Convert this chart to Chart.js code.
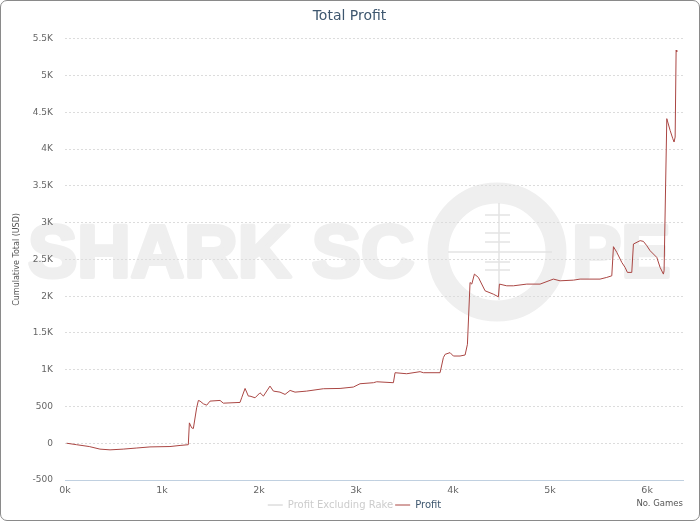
<!DOCTYPE html>
<html>
<head>
<meta charset="utf-8">
<script src="https://cdn.jsdelivr.net/npm/chart.js@4"></script>
<style>
  body { margin: 0; background: #fff; }
  #wrap { position: relative; width: 700px; height: 521px; }
  #frame { position: absolute; left: 0; top: 0; width: 700px; height: 521px; box-sizing: border-box;
           border: 1px solid #8a8a8a; border-radius: 7px; pointer-events: none; }
</style>
</head>
<body>
<div id="wrap">
  <canvas id="profitChart" width="700" height="521"></canvas>
  <div id="frame"></div>
</div>
<script>
// No. of games played (x) and cumulative profit in USD (y)
const games = [17, 120, 250, 360, 464, 600, 740, 876, 1082, 1186, 1271, 1282, 1306, 1323, 1357, 1375,
  1392, 1426, 1461, 1495, 1598, 1632, 1804, 1821, 1856, 1890, 1907, 1959, 2010, 2045, 2113, 2148,
  2216, 2268, 2320, 2371, 2491, 2663, 2835, 2972, 3041, 3179, 3213, 3385, 3402, 3522, 3660, 3694,
  3866, 3900, 3918, 3969, 4003, 4072, 4124, 4148, 4175, 4193, 4220, 4261, 4330, 4416, 4467, 4478,
  4553, 4622, 4760, 4897, 5034, 5103, 5241, 5309, 5515, 5584, 5636, 5653, 5688, 5739, 5773, 5797,
  5842, 5859, 5928, 5962, 5997, 6031, 6100, 6134, 6168, 6175, 6203, 6237, 6265, 6278, 6289, 6299, 6306];
const profit = [0, -20, -45, -80, -90, -80, -65, -50, -45, -30, -20, 277, 209, 200, 482, 582,
  573, 536, 518, 573, 582, 545, 555, 618, 745, 641, 641, 618, 686, 641, 777, 709,
  695, 664, 718, 695, 709, 741, 745, 764, 809, 823, 836, 823, 959, 945, 973, 959,
  959, 1164, 1209, 1232, 1186, 1186, 1200, 1346, 2186, 2164, 2300, 2255, 2073, 2027, 1991, 2164,
  2141, 2141, 2164, 2164, 2232, 2209, 2218, 2232, 2232, 2255, 2277, 2673, 2595, 2459, 2391, 2323,
  2323, 2709, 2755, 2745, 2686, 2618, 2527, 2391, 2300, 2345, 4414, 4255, 4141, 4096, 4164, 5345, 5323];
// series shown greyed out (switched off) in the legend
const profitExRake = [];

const seriesNames = ['Profit Excluding Rake', 'Profit'];
const seriesColors = ['#4572a7', '#aa4643'];

const xTicks = [0, 1000, 2000, 3000, 4000, 5000, 6000];
const yTicks = { min: -500, max: 5500, step: 500 };

const FONT = "'DejaVu Sans', Verdana, sans-serif";

// big grey "SHARK SCOPE" watermark behind the plot, plus small layout nudges
const watermark = {
    id: 'watermark',
    afterLayout(chart) {
        chart.legend.left += 9;
        chart.legend.right += 9;
        chart.titleBlock.left += 4;
        chart.titleBlock.right += 4;
    },
    beforeDraw(chart) {
        const ctx = chart.ctx;
        ctx.save();
        ctx.fillStyle = '#efefef';
        ctx.strokeStyle = '#efefef';
        ctx.font = "bold 74px 'Liberation Sans', Arial, sans-serif";
        ctx.textBaseline = 'alphabetic';
        ctx.lineWidth = 4;
        ctx.lineJoin = 'round';
        ctx.fillText('SHARK SC', 28, 277);
        ctx.strokeText('SHARK SC', 28, 277);
        ctx.fillText('PE', 572, 277);
        ctx.strokeText('PE', 572, 277);
        ctx.lineWidth = 21;
        ctx.beginPath();
        ctx.arc(497, 252, 59, 0, Math.PI * 2);
        ctx.stroke();
        ctx.lineWidth = 1.5;
        ctx.strokeStyle = '#e4e4e4';
        ctx.beginPath();
        ctx.moveTo(499, 203); ctx.lineTo(499, 300);
        ctx.moveTo(448, 252); ctx.lineTo(552, 252);
        [215, 233, 242, 262, 270].forEach(y => {
            ctx.moveTo(485, y); ctx.lineTo(510, y);
        });
        ctx.stroke();
        ctx.restore();
    },
    afterDraw(chart) {
        const ctx = chart.ctx;
        ctx.save();
        ctx.font = '8.5px ' + FONT;
        ctx.fillStyle = '#555';
        ctx.textAlign = 'right';
        ctx.textBaseline = 'middle';
        ctx.fillText('No. Games', 683, 504);
        ctx.restore();
    }
};

new Chart(document.getElementById('profitChart'), {
    type: 'line',
    data: {
        datasets: [
            {
                label: seriesNames[0],
                data: profitExRake.map((v, i) => ({ x: games[i], y: v })),
                borderColor: seriesColors[0],
                borderWidth: 1,
                pointRadius: 0,
                hidden: true
            },
            {
                label: seriesNames[1],
                data: profit.map((v, i) => ({ x: games[i], y: v })),
                borderColor: seriesColors[1],
                borderWidth: 1,
                pointRadius: 0,
                tension: 0
            }
        ]
    },
    options: {
        responsive: false,
        animation: false,
        devicePixelRatio: 1,
        layout: { padding: { left: 8, right: 17, top: 0, bottom: 1 } },
        plugins: {
            title: {
                display: true,
                text: 'Total Profit',
                color: '#3e576f',
                font: { family: FONT, size: 14, weight: 'normal' },
                padding: { top: 8, bottom: 14 }
            },
            legend: {
                position: 'bottom',
                onClick: null,
                labels: {
                    usePointStyle: true,
                    pointStyleWidth: 15,
                    boxHeight: 10,
                    padding: 2,
                    font: { family: FONT, size: 10 },
                    generateLabels(chart) {
                        return chart.data.datasets.map((ds, i) => {
                            const off = ds.hidden;
                            const c = off ? '#cccccc' : '#3e576f';
                            return {
                                text: ds.label,
                                fontColor: c,
                                strokeStyle: off ? '#cccccc' : ds.borderColor,
                                fillStyle: 'transparent',
                                lineWidth: 1,
                                pointStyle: 'line',
                                hidden: false,
                                datasetIndex: i
                            };
                        });
                    }
                }
            },
            tooltip: { enabled: false }
        },
        scales: {
            x: {
                type: 'linear',
                min: 0,
                max: 6370,
                grid: { display: false, drawTicks: false },
                border: { display: true, color: '#c0d0e0' },
                ticks: {
                    autoSkip: false,
                    maxRotation: 0,
                    padding: 5,
                    color: '#666',
                    font: { family: FONT, size: 9.5 },
                    callback: v => (v / 1000) + 'k'
                },
                afterBuildTicks(scale) {
                    scale.ticks = xTicks.map(v => ({ value: v }));
                },
                afterFit(scale) { scale.height = 18; }
            },
            y: {
                min: yTicks.min,
                max: yTicks.max,
                grid: { color: '#dcdcdc', drawTicks: false },
                border: { display: false, dash: [2, 2] },
                title: {
                    display: true,
                    text: 'Cumulative Total (USD)',
                    color: '#555',
                    font: { family: FONT, size: 8 },
                    padding: { top: 4, bottom: 0 }
                },
                ticks: {
                    stepSize: yTicks.step,
                    padding: 12,
                    color: '#666',
                    font: { family: FONT, size: 9 },
                    callback: v => Math.abs(v) >= 1000 ? (v / 1000) + 'K' : v
                },
                afterFit(scale) { scale.width = 57; }
            }
        }
    },
    plugins: [watermark]
});
</script>
</body>
</html>
